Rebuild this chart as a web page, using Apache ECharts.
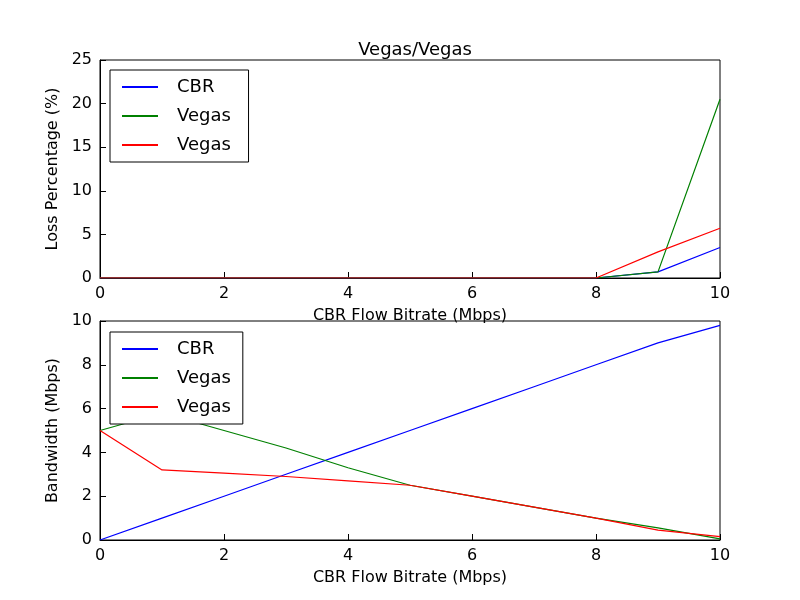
<!DOCTYPE html>
<html>
<head>
<meta charset="utf-8" />
<script src="https://cdn.jsdelivr.net/npm/echarts@6/dist/echarts.min.js"></script>
</head>
<body style="margin:0">
<div id="main" style="width:800px;height:600px"></div>
<script>
var xs = [0, 1, 2, 3, 4, 5, 6, 7, 8, 9, 10];
var lossCbr = [0, 0, 0, 0, 0, 0, 0, 0, 0, 0.7, 3.5];
var lossVegas1 = [0, 0, 0, 0, 0, 0, 0, 0, 0, 0.7, 20.5];
var lossVegas2 = [0, 0, 0, 0, 0, 0, 0, 0, 0, 3.0, 5.7];
var bwCbr = [0, 1, 2, 3, 4, 5, 6, 7, 8, 9, 9.8];
var bwVegas1 = [5, 5.8, 5.0, 4.2, 3.3, 2.5, 2.0, 1.5, 1.0, 0.55, 0.05];
var bwVegas2 = [5, 3.2, 3.05, 2.9, 2.7, 2.5, 2.0, 1.5, 1.0, 0.45, 0.15];

var font = "DejaVu Sans";
var chart = echarts.init(document.getElementById("main"));

function xAxis(i) {
    return {
        type: "value", gridIndex: i, min: 0, max: 10, interval: 2,
        name: "CBR Flow Bitrate (Mbps)", nameLocation: "middle", nameGap: 30,
        nameTextStyle: { fontFamily: font, fontSize: 16, color: "#000" },
        axisLine: { lineStyle: { color: "#000" } },
        axisTick: { inside: true, length: 6, lineStyle: { color: "#000" } },
        axisLabel: { fontFamily: font, fontSize: 16, color: "#000", margin: 8 },
        splitLine: { show: false }
    };
}
function yAxis(i, max, interval, name) {
    return {
        type: "value", gridIndex: i, min: 0, max: max, interval: interval,
        name: name, nameLocation: "middle", nameGap: 34,
        nameTextStyle: { fontFamily: font, fontSize: 16, color: "#000" },
        axisLine: { lineStyle: { color: "#000" } },
        axisTick: { inside: true, length: 6, lineStyle: { color: "#000" } },
        axisLabel: { fontFamily: font, fontSize: 16, color: "#000", margin: 8 },
        splitLine: { show: false }
    };
}
function pairs(ys) { return xs.map((x, i) => [x, ys[i]]); }
function line(name, ys, color, i) {
    return {
        name: name, type: "line", xAxisIndex: i, yAxisIndex: i, z: 2,
        data: pairs(ys), showSymbol: false, animation: false,
        lineStyle: { color: color, width: 1.2 }, itemStyle: { color: color }
    };
}
function legend(top, ids) {
    return {
        left: 110, top: top, orient: "vertical", itemGap: 11, z: 10,
        data: ids, borderColor: "#000", borderWidth: 1, padding: [8, 12, 8, 12],
        backgroundColor: "#fff", itemWidth: 36, itemHeight: 2, icon: "rect",
        textStyle: { fontFamily: font, fontSize: 18, color: "#000", padding: [0, 0, 0, 14] },
        selectedMode: false
    };
}

chart.setOption({
    backgroundColor: "#fff",
    title: { text: "Vegas/Vegas", left: 410, top: 36, textAlign: "center",
        textStyle: { fontFamily: font, fontSize: 18, fontWeight: "normal", color: "#000" } },
    grid: [
        { left: 100, top: 60, width: 620, height: 218, show: true, borderColor: "#000", borderWidth: 1 },
        { left: 100, top: 321, width: 620, height: 219, show: true, borderColor: "#000", borderWidth: 1 }
    ],
    xAxis: [xAxis(0), xAxis(1)],
    yAxis: [yAxis(0, 25, 5, "Loss Percentage (%)"), yAxis(1, 10, 2, "Bandwidth (Mbps)")],
    legend: [
        legend(70, [{ name: "CBR" }, { name: "Vegas" }, { name: "Vegas " }]),
        legend(332, [{ name: "CBR2" }, { name: "Vegas2" }, { name: "Vegas2 " }])
    ],
    series: [
        line("CBR", lossCbr, "#0000ff", 0),
        line("Vegas", lossVegas1, "#008000", 0),
        line("Vegas ", lossVegas2, "#ff0000", 0),
        line("CBR2", bwCbr, "#0000ff", 1),
        line("Vegas2", bwVegas1, "#008000", 1),
        line("Vegas2 ", bwVegas2, "#ff0000", 1)
    ]
});
// second legend shows same labels as the first
chart.setOption({
    legend: [{}, { formatter: function (n) { return n.replace("2", "").trim(); } }]
});
</script>
</body>
</html>
